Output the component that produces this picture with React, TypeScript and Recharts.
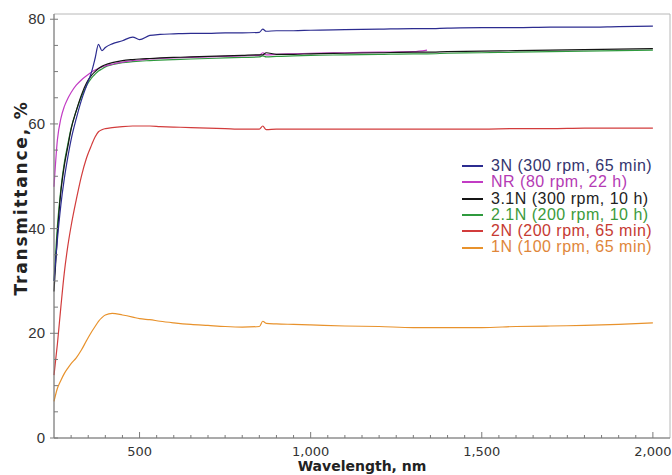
import { LineChart, Line, XAxis, YAxis, ReferenceArea, Legend, Label } from "recharts";

const WAVELENGTHS = [
  250, 260, 270, 280, 290, 300, 315, 330, 345, 360, 370, 380, 390, 400, 420, 450, 480, 500, 530, 560, 600,
  650, 700, 750, 800, 850, 860, 870, 900, 950, 1000, 1100, 1200, 1300, 1340, 1400, 1500, 1600, 1700, 1800,
  1900, 2000,
];

const T_3N = [
  30, 38, 44.5, 49.5, 53.5, 57, 61, 64.5, 67.3, 70, 72.5, 75.2, 74, 74.6, 75.3, 75.9, 76.6, 76.1, 76.9, 77.1,
  77.2, 77.3, 77.3, 77.4, 77.4, 77.5, 78.1, 77.7, 77.8, 77.8, 77.9, 78, 78.1, 78.2, 78.2, 78.3, 78.4, 78.4,
  78.5, 78.5, 78.6, 78.7,
];
const T_NR = [
  48, 57, 61, 63.3, 64.8, 66, 67.4, 68.4, 69.2, 69.9, 70.3, 70.6, 70.9, 71.1, 71.4, 71.8, 72.1, 72.2,
  72.4, 72.5, 72.6, 72.7, 72.8, 72.9, 73, 73.1, 73.6, 73.2, 73.3, 73.4, 73.5, 73.6, 73.7, 73.8, 74.1, null,
  null, null, null, null, null, null,
];
const T_31N = [
  28, 39, 47, 52, 55.5, 59, 62.5, 65.5, 67.8, 69.3, 70, 70.6, 71, 71.3, 71.7, 72.1, 72.3, 72.4, 72.5, 72.6,
  72.7, 72.8, 72.9, 73, 73.1, 73.2, 73.2, 73.6, 73.3, 73.3, 73.4, 73.5, 73.6, 73.7, 73.7, 73.8, 73.9, 74,
  74.1, 74.2, 74.3, 74.4,
];
const T_21N = [
  30, 40.5, 47.5, 52.5, 56, 59.2, 62.5, 65.2, 67.3, 68.8, 69.5, 70.1, 70.5, 70.9, 71.3, 71.7, 71.9, 72, 72.1,
  72.2, 72.3, 72.4, 72.5, 72.6, 72.7, 72.8, 73, 72.8, 72.9, 73, 73.1, 73.2, 73.3, 73.4, 73.4, 73.5, 73.6,
  73.7, 73.8, 73.9, 74, 74.1,
];
const T_2N = [
  12, 18, 25, 31.5, 36.5, 40.5, 45.5, 50, 53.5, 56, 57.5, 58.5, 58.9, 59.1, 59.3, 59.5, 59.6, 59.6, 59.6,
  59.5, 59.4, 59.3, 59.2, 59.1, 59, 59, 59.6, 58.9, 59, 59, 59, 59, 59, 59, 59, 59, 59, 59.1, 59.1, 59.2,
  59.2, 59.2,
];
const T_1N = [
  7, 9.5, 11, 12.3, 13.3, 14.2, 15.3, 16.8, 18.6, 20.3, 21.3, 22.3, 23, 23.5, 23.8, 23.5, 23.1, 22.8, 22.6,
  22.3, 22, 21.7, 21.5, 21.3, 21.2, 21.3, 22.3, 21.9, 21.8, 21.7, 21.6, 21.4, 21.3, 21.1, 21.1, 21.1, 21.1,
  21.3, 21.4, 21.5, 21.7, 22,
];

const X_TICKS = [
  300, 350, 400, 450, 500, 550, 600, 650, 700, 750, 800, 850, 900, 950, 1000, 1050, 1100, 1150, 1200, 1250,
  1300, 1350, 1400, 1450, 1500, 1550, 1600, 1650, 1700, 1750, 1800, 1850, 1900, 1950, 2000,
];
const X_LABELS = [500, 1000, 1500, 2000];
const Y_TICKS = [0, 5, 10, 15, 20, 25, 30, 35, 40, 45, 50, 55, 60, 65, 70, 75, 80];
const Y_LABELS = [0, 20, 40, 60, 80];

// drawn in this order; legend is listed separately below
const SERIES = [
  { key: "n1", name: "1N (100 rpm, 65 min)", color: "#e8922c", text: "#e0863a", values: T_1N },
  { key: "n2", name: "2N (200 rpm, 65 min)", color: "#d23c3c", text: "#c63a32", values: T_2N },
  { key: "n21", name: "2.1N (200 rpm, 10 h)", color: "#2f9a3e", text: "#3b9a3b", values: T_21N },
  { key: "nr", name: "NR (80 rpm, 22 h)", color: "#c23cc4", text: "#b43ab4", values: T_NR },
  { key: "n31", name: "3.1N (300 rpm, 10 h)", color: "#151515", text: "#222222", values: T_31N },
  { key: "n3", name: "3N (300 rpm, 65 min)", color: "#2c2c90", text: "#34346e", values: T_3N },
];
const LEGEND_ORDER = ["n3", "nr", "n31", "n21", "n2", "n1"];

const rows = WAVELENGTHS.map((wl, i) => {
  const r: Record<string, number | null> = { wl };
  SERIES.forEach((s) => {
    r[s.key] = s.values[i];
  });
  return r;
});

const AXIS = "#7a7a7a";

function YTick({ x, y, payload }: any) {
  const major = Y_LABELS.includes(payload.value);
  return (
    <g>
      <line x1={major ? x - 4 : x} x2={x + 4} y1={y} y2={y} stroke={AXIS} />
      {major && (
        <text
          x={x - 9}
          y={y + 5}
          textAnchor="end"
          fontSize={15}
          fontFamily="Liberation Sans, Arial, sans-serif"
          fill="#333"
        >
          {payload.value}
        </text>
      )}
    </g>
  );
}

function XTick({ x, y, payload }: any) {
  const major = X_LABELS.includes(payload.value);
  return (
    <g>
      <line x1={x} x2={x} y1={y - (major ? 6 : 3)} y2={y} stroke={AXIS} />
      {major && (
        <text
          x={x}
          y={y + 18}
          textAnchor="middle"
          fontSize={13}
          fontFamily="DejaVu Sans, Verdana, sans-serif"
          fill="#333"
        >
          {payload.value.toLocaleString("en-US")}
        </text>
      )}
    </g>
  );
}

function LegendBox() {
  return (
    <div
      style={{
        fontFamily: "Liberation Sans, Arial, sans-serif",
        fontSize: 16,
        letterSpacing: 0.5,
        lineHeight: "16.3px",
      }}
    >
      {LEGEND_ORDER.map((k) => {
        const s = SERIES.find((e) => e.key === k)!;
        return (
          <div key={k} style={{ display: "flex", alignItems: "center", whiteSpace: "nowrap", height: 16.3 }}>
            <span style={{ width: 21, height: 2, background: s.color, marginRight: 8 }} />
            <span style={{ color: s.text }}>{s.name}</span>
          </div>
        );
      })}
    </div>
  );
}

export default function App() {
  return (
    <div style={{ position: "absolute", left: 0, top: 0, width: 672, height: 475, background: "#fff" }}>
      <LineChart width={672} height={475} data={rows} margin={{ top: 14, right: 2, bottom: 0, left: 0 }}>
        <ReferenceArea x1={250} x2={2050} y1={0} y2={81} fill="none" stroke="#b8b8b8" />
        <XAxis
          dataKey="wl"
          type="number"
          domain={[250, 2050]}
          ticks={X_TICKS}
          interval={0}
          height={37}
          tickSize={0}
          tickMargin={0}
          tickLine={false}
          axisLine={{ stroke: AXIS }}
          tick={<XTick />}
        >
          <Label
            value="Wavelength, nm"
            position="insideBottom"
            offset={4}
            fontSize={14}
            fontWeight="bold"
            fontFamily="DejaVu Sans, Verdana, sans-serif"
            fill="#222"
          />
        </XAxis>
        <YAxis
          type="number"
          domain={[0, 81]}
          ticks={Y_TICKS}
          interval={0}
          width={54}
          tickSize={0}
          tickMargin={0}
          tickLine={false}
          axisLine={{ stroke: AXIS }}
          tick={<YTick />}
        >
          <Label
            content={() => (
              <text
                x={21}
                y={198}
                transform="rotate(-90 21 198)"
                textAnchor="middle"
                dominantBaseline="central"
                fontSize={17}
                fontWeight="bold"
                letterSpacing={1.8}
                fontFamily="DejaVu Sans, Verdana, sans-serif"
                fill="#222"
              >
                Transmittance, %
              </text>
            )}
          />
        </YAxis>
        {SERIES.map((s) => (
          <Line
            key={s.key}
            dataKey={s.key}
            name={s.name}
            type="monotone"
            stroke={s.color}
            strokeWidth={1.2}
            dot={false}
            connectNulls={false}
            isAnimationActive={false}
          />
        ))}
        <Legend
          layout="horizontal"
          verticalAlign="middle"
          content={() => <LegendBox />}
          wrapperStyle={{ position: "absolute", left: 462, top: 158, width: 210 }}
        />
      </LineChart>
    </div>
  );
}
